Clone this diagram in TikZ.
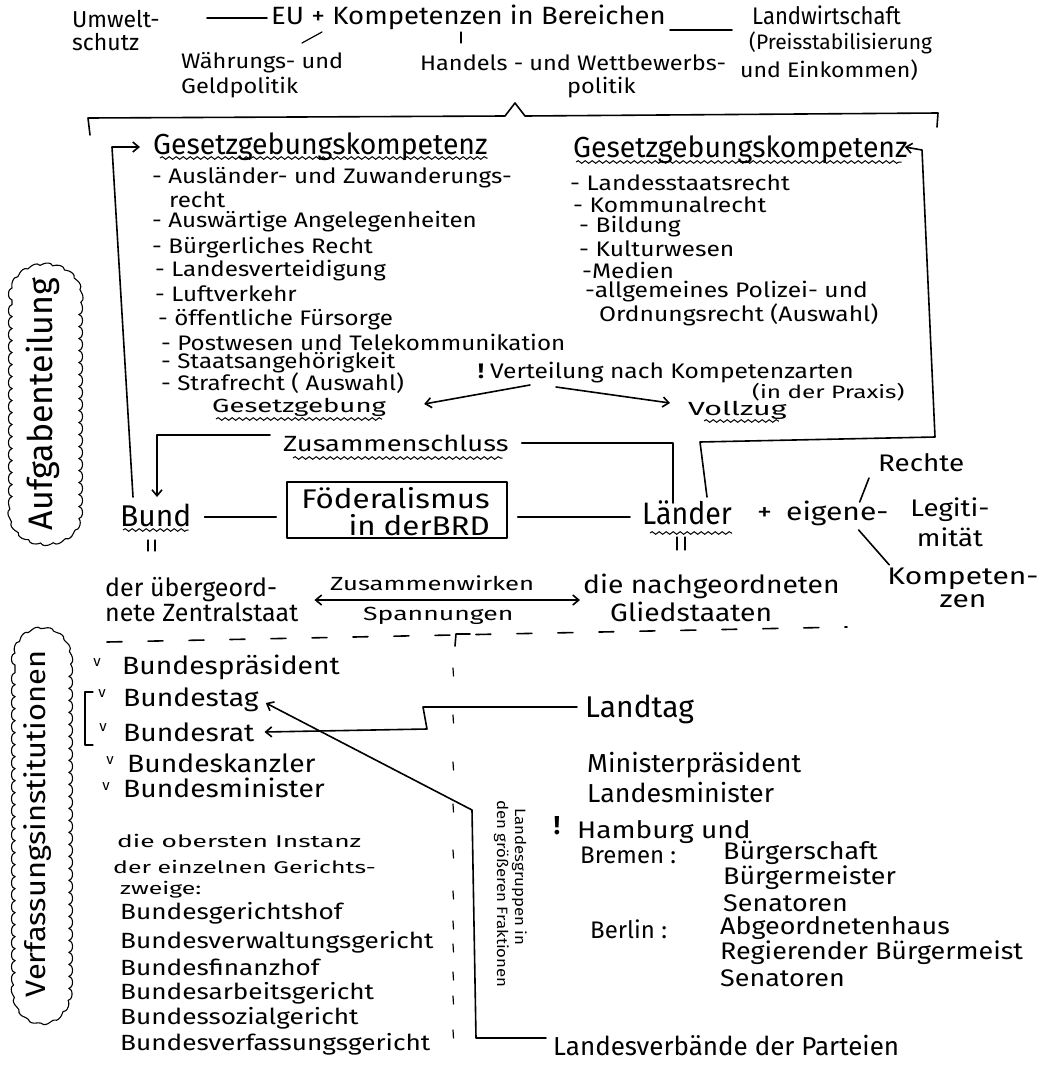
\documentclass[tikz,border=0pt]{standalone}
\usepackage{fontspec}
\setmainfont{Fira Sans}
\usetikzlibrary{arrows.meta,decorations.pathmorphing,calc}
% size, horizontal stretch, baseline skip
\newcommand\hw[3]{\fontsize{#1}{#3}\selectfont\addfontfeatures{FakeStretch=#2}}
\begin{document}
\begin{tikzpicture}[x=1pt,y=-1pt,
  every node/.style={inner sep=0pt},
  pen/.style={line width=1.6pt,line cap=round,line join=round},
  thinpen/.style={line width=1.2pt,line cap=round,line join=round},
  arr/.style={-{Straight Barb[length=6pt,width=10pt]}},
  darr/.style={{Straight Barb[length=6pt,width=10pt]}-{Straight Barb[length=6pt,width=10pt]}},
  wavy/.style={line width=1pt,decorate,decoration={snake,segment length=7pt,amplitude=1.3pt}},
  cloud/.style={line width=1.1pt,decorate,decoration={bumps,segment length=24pt,amplitude=3.5pt}},
  tx/.style={anchor=west},
]
\useasboundingbox (0,0) rectangle (1043,1079);
\fill[white] (0,0) rectangle (1043,1079);

% ---------- EU level ----------
\node[tx,font=\hw{23}{1.0}{23},align=left] (umw) at (72,31) {Umwelt-\\schutz};
\node[tx,font=\hw{25}{1.1}{28}] (eu) at (271,17) {EU + Kompetenzen in Bereichen};
\node[tx,font=\hw{24}{0.92}{28}] (lw) at (752,15) {Landwirtschaft};
\node[tx,font=\hw{21}{1.0}{24}] (lw2) at (749,43) {(Preisstabilisierung};
\node[tx,font=\hw{21}{1.1}{24}] (lw3) at (740,70) {und Einkommen)};
\node[tx,font=\hw{21}{1.12}{25},align=left] (wg) at (181,75) {Währungs- und\\Geldpolitik};
\node[tx,font=\hw{21}{1.12}{24}] (hw) at (420,63) {Handels - und Wettbewerbs-};
\node[tx,font=\hw{21}{1.12}{24}] (pol) at (567,88) {politik};
\coordinate (uL) at (207,18);
\draw[pen] (uL) -- ($(eu.west)+(-4,1)$);
\draw[pen] ($(eu.east)+(4,13)$) -- ($(lw.west)+(-20,15)$);
\draw[thinpen] ($(eu.west)+(51,15)$) -- ($(eu.west)+(31,26)$);
\draw[thinpen] ($(eu.west)+(190,15)$) -- ($(eu.west)+(190,26)$);

% brace over the distribution of competences
\draw[pen] (90,135) -- (88,118) -- (505,116) -- (515,103) -- (525,116) -- (938,113) -- (937,127);

% ---------- legislative competences ----------
\node[tx,font=\hw{29}{0.98}{30}] (gl) at (153,147) {Gesetzgebungskompetenz};
\node[tx,font=\hw{29}{0.98}{30}] (gr) at (573,150) {Gesetzgebungskompetenz};
\draw[wavy] ($(gl.west)+(7,11)$) -- ($(gl.east)+(0,11)$);
\draw[wavy] ($(gr.west)+(3,12)$) -- ($(gr.east)+(-6,12)$);

\foreach \n/\x/\y/\t in {1/152/178/{- Ausländer- und Zuwanderungs-},
    2/169/200/{recht},
    3/152/222/{- Auswärtige Angelegenheiten},
    4/152/248/{- Bürgerliches Recht},
    5/155/271/{- Landesverteidigung},
    6/155/294/{- Luftverkehr},
    7/158/320/{- öffentliche Fürsorge},
    8/161/342/{- Postwesen und Telekommunikation},
    9/161/363/{- Staatsangehörigkeit},
    10/161/383/{- Strafrecht ( Auswahl)}}
  \node[tx,font=\hw{21}{1.15}{24}] (bl\n) at (\x,\y) {\t};

\foreach \n/\x/\y/\t in {1/570/183/{- Landesstaatsrecht},
    2/573/205/{- Kommunalrecht},
    3/579/227/{- Bildung},
    4/579/249/{- Kulturwesen},
    5/582/270/{-Medien},
    6/585/292/{-allgemeines Polizei- und},
    7/599/315/{Ordnungsrecht (Auswahl)}}
  \node[tx,font=\hw{21}{1.17}{24}] (ll\n) at (\x,\y) {\t};

\node[tx,font=\hw{21}{1.17}{24}] (vt) at (478,373) {\textbf{!}\hspace{6pt}Verteilung nach Kompetenzarten};
\node[tx,font=\hw{18}{1.35}{20}] (pr) at (752,392) {(in der Praxis)};
\node[tx,font=\hw{19}{1.45}{20}] (gz) at (212,407) {Gesetzgebung};
\node[tx,font=\hw{19}{1.6}{20}] (vz) at (688,410) {Vollzug};
\draw[wavy] ($(gz.west)+(4,12)$) -- ($(gz.east)+(-4,12)$);
\draw[wavy] ($(vz.west)+(16,11)$) -- ($(vz.east)+(-8,11)$);
\draw[pen,arr] ($(vt.west)+(52,12)$) -- ($(gz.east)+(38,-3)$);
\draw[pen,arr] ($(vt.west)+(78,14)$) -- ($(vz.west)+(-18,-7)$);

% ---------- federation and states ----------
\node[tx,font=\hw{22}{1.24}{24}] (zus) at (283,443) {Zusammenschluss};
\draw[wavy] ($(zus.west)+(10,15)$) -- ($(zus.east)+(-6,15)$);

\node[tx,font=\hw{30}{1.0}{30}] (bund) at (120,515) {Bund};
\node[draw,pen,minimum width=220pt,minimum height=56pt] (fed) at (397,510) {};
\node[anchor=east,font=\hw{27}{1.16}{27}] (fed1) at (490,498) {Föderalismus};
\node[anchor=east,font=\hw{27}{1.16}{27}] (fed2) at (490,525) {in\hspace{8pt}derBRD};
\node[tx,font=\hw{31}{0.92}{32}] (laender) at (642,513) {Länder};
\node[tx,font=\hw{25}{1.2}{26}] (eig) at (757,513) {+\hspace{14pt}eigene-};
\node[tx,font=\hw{24}{1.16}{26}] (rechte) at (878,463) {Rechte};
\node[font=\hw{24}{1.15}{30},align=center] (legit) at (950,522) {Legiti-\\mität};
\node[font=\hw{24}{1.25}{23},align=center] (komp) at (963,588) {Kompeten-\\zen};

\draw[wavy] ($(bund.west)+(3,15)$) -- ($(bund.east)+(-3,15)$);
\draw[wavy] ($(laender.west)+(8,20)$) -- ($(laender.east)+(0,20)$);
\draw[thinpen] (148,540) -- (148,551) (155,540) -- (155,551);
\draw[thinpen] (677,537) -- (677,550) (685,537) -- (685,550);

\draw[pen] ($(bund.east)+(13,2)$) -- ($(fed.west)+(-10,7)$);
\draw[pen] ($(fed.east)+(10,7)$) -- ($(laender.west)+(-12,4)$);
\draw[pen] ($(eig.east)+(-29,-11)$) -- ($(rechte.west)+(-9,15)$);
\draw[pen] ($(eig.east)+(-30,17)$) -- ($(komp.north west)+(2,-3)$);

\coordinate (cL) at (112,147);
\draw[pen,arr] ($(bund.west)+(13,-18)$) -- (cL) -- ($(gl.west)+(-13,0)$);
\draw[pen,arr] ($(zus.west)+(-13,-8)$) -| ($(bund.west)+(37,-18)$);
\draw[pen] ($(zus.east)+(13,0)$) -| ($(laender.west)+(31,-10)$);
\coordinate (vR) at (935,437);
\coordinate (vT) at (922,150);
\draw[pen,arr] ($(laender.west)+(65,-16)$) -- (700,442) -- (vR) -- (vT) -- ($(gr.east)+(-3,-3)$);

\node[tx,font=\hw{25}{1.0}{25},align=left] (ov) at (105,600) {der übergeord-\\nete Zentralstaat};
\node[tx,font=\hw{19}{1.35}{20}] (zw) at (330,583) {Zusammenwirken};
\node[tx,font=\hw{19}{1.4}{20}] (sp) at (363,616) {Spannungen};
\node[tx,font=\hw{25}{1.13}{28},align=left] (ng) at (583,598) {die nachgeordneten\\\hspace*{27pt}Gliedstaaten};
\draw[pen,darr] ($(ov.east)+(16,0)$) -- ($(ng.west)+(-3,2)$);

% ---------- separator ----------
\draw[pen,dash pattern=on 15pt off 26pt] (107,642) -- (847,627);
\draw[pen] (470,634) -- (456,634) -- (455,646);
\foreach \y in {668,715,762,804,850,891,921,944,972,996,1030}
  \draw[thinpen] (453,\y) -- (453.5,\y+8);

% ---------- headings of the two parts ----------
\node[rotate=90,font=\hw{34}{1.0}{34}] (auf) at (43,404) {Aufgabenteilung};
\draw[cloud] (12,300) .. controls (12,256) and (79,256) .. (79,300) -- (79,510)
  .. controls (79,552) and (12,552) .. (12,510) -- cycle;
\node[rotate=90,font=\hw{28}{1.1}{28}] (vi) at (38,824) {Verfassungsinstitutionen};
\draw[cloud] (15,665) .. controls (15,620) and (69,620) .. (69,665) -- (69,985)
  .. controls (69,1032) and (15,1032) .. (15,985) -- cycle;

% ---------- federal institutions ----------
\foreach \n/\x/\y/\t in {p/122/667/Bundespräsident,t/123/700/Bundestag,r/123/732/Bundesrat,
    k/127/763/Bundeskanzler,m/123/788/Bundesminister}
  \node[tx,font=\hw{25}{1.13}{26}] (b\n) at (\x,\y) {\t};
\foreach \n/\x/\y in {1/97/663,2/102/694,3/103/728,4/110/761,5/106/787}
  \node[font=\hw{15}{1.0}{15}] (ck\n) at (\x,\y) {v};
\draw[thinpen] (93,692) -- (85,692) -- (85,745) -- (93,745);

\node[tx,font=\hw{17}{1.55}{18}] (go1) at (117,841) {die obersten Instanz};
\node[tx,font=\hw{17}{1.46}{18}] (go2) at (113,867) {der einzelnen Gerichts-};
\node[tx,font=\hw{17}{1.46}{18}] (go3) at (120,890) {zweige:};
\foreach \n/\y/\t in {1/913/Bundesgerichtshof,2/942/Bundesverwaltungsgericht,3/967/Bundesfinanzhof,
    4/993/Bundesarbeitsgericht,5/1018/Bundessozialgericht,6/1044/Bundesverfassungsgericht}
  \node[tx,font=\hw{22}{1.19}{24}] (g\n) at (120,\y) {\t};

% ---------- state institutions ----------
\node[tx,font=\hw{30}{1.0}{30}] (lt) at (585,709) {Landtag};
\node[tx,font=\hw{26}{1.03}{28}] (mp) at (587,765) {Ministerpräsident};
\node[tx,font=\hw{26}{1.03}{28}] (lm) at (587,793) {Landesminister};
\draw[pen,arr] ($(lt.west)+(-8,-2)$) -- (423,707) -- (427,729) -- ($(br.east)+(10,0)$);

\node[tx,font=\hw{26}{1.0}{28}] (lv) at (553,1046) {Landesverbände der Parteien};
\draw[pen,arr] ($(lv.west)+(-7,-8)$) -- (476,1038) -- (472,810) -- ($(bt.east)+(7,3)$);
\node[rotate=-90,anchor=north west,align=left,font=\hw{15}{1.12}{18}] (lg) at (527,800)
  {\hspace*{8pt}Landesgruppen in\\den größeren Fraktionen};

\node[font=\hw{26}{1.0}{26}\bfseries] (ex) at (557,826) {!};
\node[tx,font=\hw{24}{1.17}{26}] (hh) at (577,832) {Hamburg und};
\node[tx,font=\hw{24}{1.0}{26}] (hb) at (580,855) {Bremen :};
\node[tx,font=\hw{24}{1.12}{26}] (bs) at (723,853) {Bürgerschaft};
\node[tx,font=\hw{24}{1.12}{26}] (bgm) at (723,878) {Bürgermeister};
\node[tx,font=\hw{24}{1.12}{26}] (sen) at (723,903) {Senatoren};
\node[tx,font=\hw{24}{1.0}{26}] (be) at (590,929) {Berlin :};
\node[tx,font=\hw{24}{1.12}{26}] (ah) at (720,928) {Abgeordnetenhaus};
\node[tx,font=\hw{24}{1.12}{26}] (rb) at (720,953) {Regierender Bürgermeist};
\node[tx,font=\hw{24}{1.12}{26}] (sen2) at (720,978) {Senatoren};
\end{tikzpicture}
\end{document}
